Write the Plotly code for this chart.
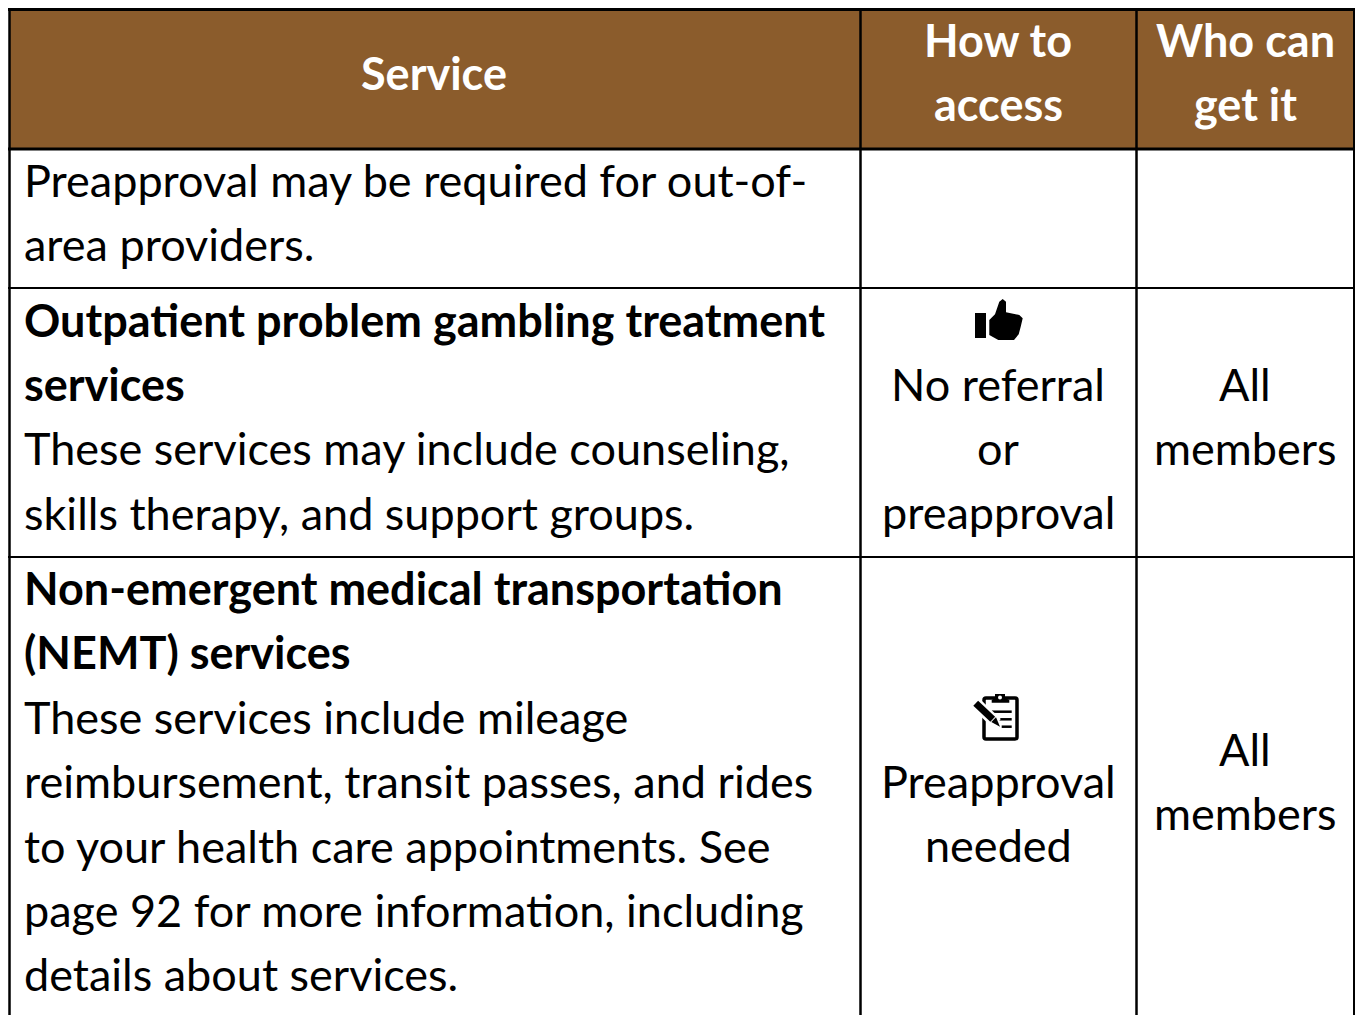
import plotly.graph_objects as go

# ---- table content
header_service = ["<b>Service</b>"]
header_access = ["<b>How to</b>", "<b>access</b>"]
header_who = ["<b>Who can</b>", "<b>get it</b>"]
row1_service = ["Preapproval may be required for out-of-", "area providers."]
row2_service = ["<b>Outpatient problem gambling treatment</b>", "<b>services</b>",
                "These services may include counseling,", "skills therapy, and support groups."]
row2_access = ["No referral", "or", "preapproval"]
row2_who = ["All", "members"]
row3_service = ["<b>Non-emergent medical transportation</b>", "<b>(NEMT) services</b>",
                "These services include mileage", "reimbursement, transit passes, and rides",
                "to your health care appointments. See", "page 92 for more information, including",
                "details about services."]
row3_access = ["Preapproval", "needed"]
row3_who = ["All", "members"]

# ---- geometry (pixels)
W, H = 1355, 1015
LEFT, COL1, COL2, RIGHT = 9.5, 860.5, 1136.5, 1354
TOP, HEAD, ROW1, ROW2 = 9.5, 149, 288, 557
PITCH = 64.4
NUDGE = -1.5
FONT = "Lato"
SIZE = 45
BROWN = "#8B5C2C"

fig = go.Figure()
shapes = []
annos = []


def text(lines, x, y0, anchor="left", color="#000000"):
    for i, t in enumerate(lines):
        annos.append(dict(x=x, y=y0 + NUDGE + i * PITCH, text=t, xref="x", yref="y", showarrow=False,
                          xanchor=anchor, yanchor="middle", align=anchor,
                          font=dict(family=FONT, size=SIZE, color=color), borderpad=0, borderwidth=0))


def line(x0, y0, x1, y1, w):
    shapes.append(dict(type="line", xref="x", yref="y", x0=x0, y0=y0, x1=x1, y1=y1,
                       line=dict(color="#000000", width=w), layer="above"))


shapes.append(dict(type="rect", xref="x", yref="y", x0=LEFT, x1=RIGHT, y0=TOP, y1=HEAD,
                   fillcolor=BROWN, line=dict(width=0), layer="below"))
line(8, TOP, RIGHT + 1, TOP, 3)
line(LEFT, 8, LEFT, H, 2.5)
line(COL1, 8, COL1, H, 2.5)
line(COL2, 8, COL2, H, 2.5)
line(RIGHT, 8, RIGHT, H, 2)
line(8, HEAD, RIGHT + 1, HEAD, 3)
line(8, ROW1, RIGHT + 1, ROW1, 2)
line(8, ROW2, RIGHT + 1, ROW2, 2)


def path(points, ox, oy, close=True):
    s = "M" + " L".join(f"{ox + a / 3:.1f},{oy + b / 3:.1f}" for a, b in points)
    return s + (" Z" if close else "")


# thumbs-up icon, points traced in zoom-crop units
tx, ty = 950, 285
shapes.append(dict(type="rect", xref="x", yref="y", x0=975, x1=986, y0=313, y1=338,
                   fillcolor="#000", line=dict(width=0)))
shapes.append(dict(type="path", xref="x", yref="y", fillcolor="#000", line=dict(width=0),
                   path=path([(118, 105), (135, 88), (148, 50), (158, 42), (168, 50), (168, 82),
                              (208, 90), (218, 100), (212, 125), (206, 148), (192, 165),
                              (145, 165), (118, 150)], tx, ty)))

# clipboard icon
cx, cy = 950, 680
shapes.append(dict(type="path", xref="x", yref="y", fillcolor="rgba(0,0,0,0)",
                   line=dict(color="#000", width=3.5),
                   path="M986,698 L1015,698 Q1017,698 1017,700 L1017,737 Q1017,739 1015,739 "
                        "L986,739 Q984,739 984,737 L984,700 Q984,698 986,698 Z"))
shapes.append(dict(type="path", xref="x", yref="y", fillcolor="#000", line=dict(width=0),
                   path=path([(125, 60), (135, 54), (135, 42), (165, 42), (165, 54), (178, 60), (178, 68), (125, 68)], cx, cy)))
shapes.append(dict(type="circle", xref="x", yref="y", x0=998, x1=1002, y0=695.5, y1=699.5,
                   fillcolor="#fff", line=dict(width=0)))
for by, bx0 in [(95, 125), (118, 148), (140, 155)]:
    shapes.append(dict(type="path", xref="x", yref="y", line=dict(color="#000", width=2.5),
                       path=path([(bx0, by), (185, by)], cx, cy, close=False)))
shapes.append(dict(type="path", xref="x", yref="y", line=dict(color="#fff", width=12),
                   path=path([(75, 68), (140, 130)], cx, cy, close=False)))
shapes.append(dict(type="path", xref="x", yref="y", line=dict(color="#000", width=7),
                   path=path([(77, 70), (128, 118)], cx, cy, close=False)))
shapes.append(dict(type="path", xref="x", yref="y", fillcolor="#000", line=dict(width=0),
                   path=path([(124, 126), (138, 112), (150, 140)], cx, cy)))

col1_mid = 434
col2_mid = 998
col3_mid = 1245
text(header_service, col1_mid, 74, "center", "#FFFFFF")
text(header_access, col2_mid, 41.5, "center", "#FFFFFF")
text(header_who, col3_mid, 41.5, "center", "#FFFFFF")
text(row1_service, 24, 181)
text(row2_service, 24, 321)
text(row2_access, col2_mid, 385, "center")
text(row2_who, col3_mid, 385, "center")
text(row3_service, 24, 589.5)
text(row3_access, col2_mid, 782, "center")
text(row3_who, col3_mid, 750, "center")

fig.update_layout(width=W, height=H, margin=dict(l=0, r=0, t=0, b=0), showlegend=False,
                  paper_bgcolor="#FFFFFF", plot_bgcolor="#FFFFFF", shapes=shapes, annotations=annos,
                  xaxis=dict(range=[0, W], visible=False, fixedrange=True),
                  yaxis=dict(range=[H, 0], visible=False, fixedrange=True))
fig.write_html("out.html", config={"displayModeBar": False},
               post_script="document.body.style.margin='0';"
                           "var s=document.createElement('style');"
                           "s.textContent='svg text{font-variant-ligatures:none;}';"
                           "document.head.appendChild(s);")
